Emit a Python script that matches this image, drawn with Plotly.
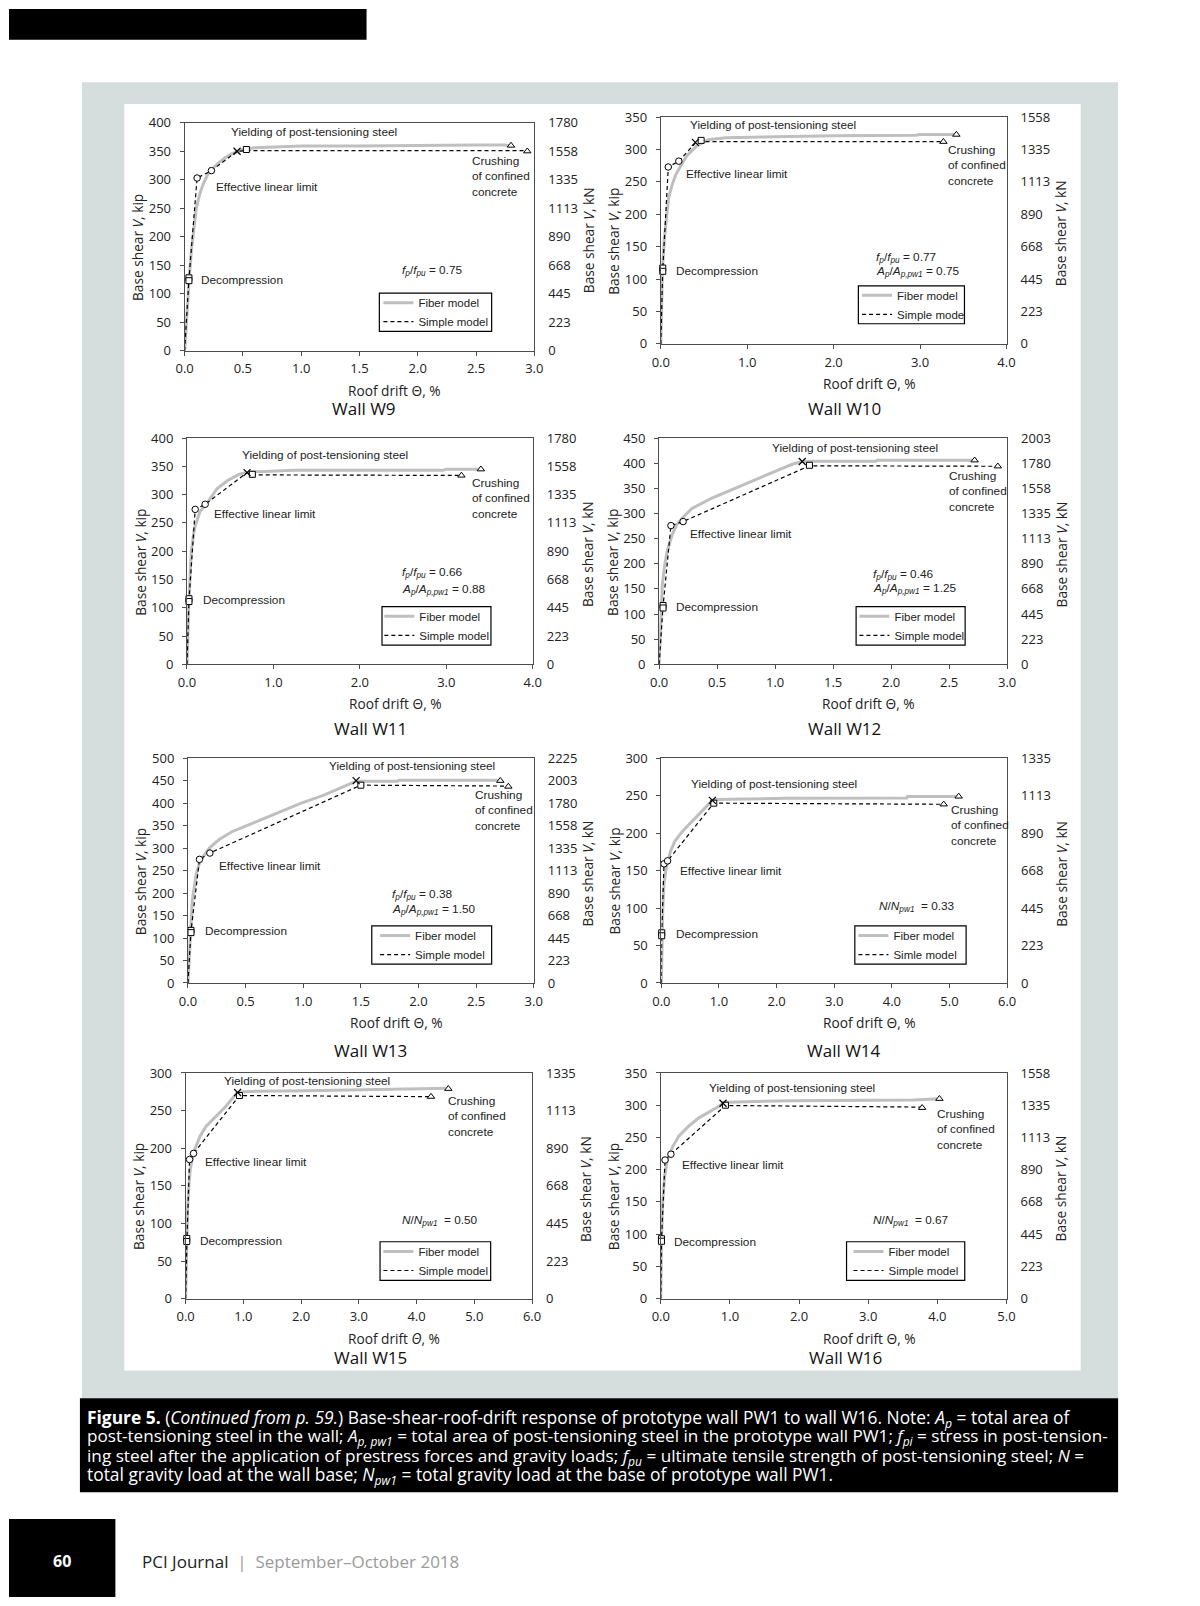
import plotly.graph_objects as go

FIG_W, FIG_H = 1200, 1606

# ======================= DATA =======================
# ---- Wall W9 ----
w9_fiber_drift = [0, 0.02, 0.04, 0.06, 0.08, 0.10, 0.13, 0.16, 0.20, 0.25, 0.30, 0.35, 0.40, 0.45, 0.50, 0.60, 0.80, 1.00, 1.50, 1.95, 2.00, 2.50, 2.75, 2.80]
w9_fiber_shear = [0, 70, 128, 180, 220, 250, 275, 293, 310, 322, 331, 339, 345, 349, 353, 356, 358, 359, 359, 359, 360, 361, 361, 359]
w9_simple_drift = [0, 0.037, 0.107, 0.23, 0.45, 0.53, 2.94]
w9_simple_shear = [0, 126, 303, 316, 350, 351, 351]
w9_square_drift, w9_square_shear = [0.037, 0.037, 0.53], [128, 123, 353]
w9_circle_drift, w9_circle_shear = [0.107, 0.23], [303, 316]
w9_cross_drift, w9_cross_shear = [0.45], [350]
w9_tri_drift, w9_tri_shear = [2.80, 2.94], [360, 350]
w9_xticks = [0, 0.5, 1.0, 1.5, 2.0, 2.5, 3.0]
w9_yticks = [0, 50, 100, 150, 200, 250, 300, 350, 400]
w9_kn_labels = ["0", "223", "445", "668", "890", "1113", "1335", "1558", "1780"]

# ---- Wall W10 ----
w10_fiber_drift = [0, 0.01, 0.02, 0.04, 0.065, 0.09, 0.13, 0.17, 0.21, 0.30, 0.42, 0.55, 0.75, 1.0, 1.5, 2.0, 2.5, 2.95, 3.0, 3.42]
w10_fiber_shear = [0, 60, 117, 160, 194, 225, 245, 260, 270, 290, 306, 315, 318, 319, 320, 321, 321, 322, 323, 323]
w10_simple_drift = [0, 0.023, 0.087, 0.209, 0.40, 0.467, 3.27]
w10_simple_shear = [0, 115, 273, 282, 310, 312, 312]
w10_square_drift, w10_square_shear = [0.023, 0.023, 0.467], [117, 112, 314]
w10_circle_drift, w10_circle_shear = [0.087, 0.209], [273, 282]
w10_cross_drift, w10_cross_shear = [0.40], [311]
w10_tri_drift, w10_tri_shear = [3.42, 3.27], [323, 312]
w10_xticks = [0, 1.0, 2.0, 3.0, 4.0]
w10_yticks = [0, 50, 100, 150, 200, 250, 300, 350]
w10_kn_labels = ["0", "223", "445", "668", "890", "1113", "1335", "1558"]

# ---- Wall W11 ----
w11_fiber_drift = [0, 0.01, 0.023, 0.05, 0.087, 0.15, 0.24, 0.35, 0.47, 0.60, 0.71, 0.90, 1.09, 1.25, 2.0, 2.96, 3.0, 3.40]
w11_fiber_shear = [0, 50, 114, 200, 241, 270, 287, 311, 325, 336, 340, 341, 342, 343, 343, 343, 345, 345]
w11_simple_drift = [0, 0.023, 0.095, 0.21, 0.695, 0.756, 3.175]
w11_simple_shear = [0, 114, 274, 283, 339, 335, 334]
w11_square_drift, w11_square_shear = [0.023, 0.023, 0.756], [116, 111, 336]
w11_circle_drift, w11_circle_shear = [0.095, 0.21], [274, 283]
w11_cross_drift, w11_cross_shear = [0.695], [339]
w11_tri_drift, w11_tri_shear = [3.40, 3.175], [345, 334]
w11_xticks = [0, 1.0, 2.0, 3.0, 4.0]
w11_yticks = [0, 50, 100, 150, 200, 250, 300, 350, 400]
w11_kn_labels = ["0", "223", "445", "668", "890", "1113", "1335", "1558", "1780"]

# ---- Wall W12 ----
w12_fiber_drift = [0, 0.01, 0.028, 0.05, 0.07, 0.113, 0.15, 0.20, 0.283, 0.45, 0.65, 0.85, 1.02, 1.16, 1.234, 1.30, 1.87, 1.88, 2.72]
w12_fiber_shear = [0, 70, 159, 200, 225, 258, 277, 291, 310, 330, 350, 369, 386, 399, 403.5, 404, 404, 406, 406]
w12_simple_drift = [0, 0.034, 0.102, 0.207, 1.296, 2.92]
w12_simple_shear = [0, 115, 276, 284, 395, 394]
w12_square_drift, w12_square_shear = [0.034, 0.034, 1.296], [117, 112, 396]
w12_circle_drift, w12_circle_shear = [0.102, 0.207], [276, 284]
w12_cross_drift, w12_cross_shear = [1.234], [403.5]
w12_tri_drift, w12_tri_shear = [2.72, 2.92], [406, 394]
w12_xticks = [0, 0.5, 1.0, 1.5, 2.0, 2.5, 3.0]
w12_yticks = [0, 50, 100, 150, 200, 250, 300, 350, 400, 450]
w12_kn_labels = ["0", "223", "445", "668", "890", "1113", "1335", "1558", "1780", "2003"]

# ---- Wall W13 ----
w13_fiber_drift = [0, 0.01, 0.02, 0.037, 0.071, 0.105, 0.185, 0.27, 0.385, 0.527, 0.726, 0.983, 1.18, 1.35, 1.459, 1.50, 1.82, 1.83, 2.71]
w13_fiber_shear = [0, 50, 114, 183, 242, 271, 300, 319, 337, 352, 374, 400, 418, 436, 449, 449, 449, 451, 451]
w13_simple_drift = [0, 0.026, 0.10, 0.19, 1.50, 2.78]
w13_simple_shear = [0, 115, 275, 289, 440, 438]
w13_square_drift, w13_square_shear = [0.026, 0.026, 1.50], [117, 112, 440]
w13_circle_drift, w13_circle_shear = [0.10, 0.19], [275, 289]
w13_cross_drift, w13_cross_shear = [1.459], [450]
w13_tri_drift, w13_tri_shear = [2.71, 2.78], [450, 437]
w13_xticks = [0, 0.5, 1.0, 1.5, 2.0, 2.5, 3.0]
w13_yticks = [0, 50, 100, 150, 200, 250, 300, 350, 400, 450, 500]
w13_kn_labels = ["0", "223", "445", "668", "890", "1113", "1335", "1558", "1780", "2003", "2225"]

# ---- Wall W14 ----
w14_fiber_drift = [0, 0.005, 0.011, 0.025, 0.046, 0.085, 0.16, 0.234, 0.36, 0.473, 0.644, 0.80, 0.883, 0.95, 1.21, 2.18, 4.26, 4.27, 5.16]
w14_fiber_shear = [0, 30, 66, 100, 132, 154, 176, 189, 202, 211, 224, 237.6, 243.7, 245, 245.5, 246.4, 247, 249, 249]
w14_simple_drift = [0, 0.006, 0.046, 0.108, 0.91, 4.90]
w14_simple_shear = [0, 65.5, 159, 163, 240, 238.5]
w14_square_drift, w14_square_shear = [0.006, 0.006, 0.91], [67, 63, 240]
w14_circle_drift, w14_circle_shear = [0.046, 0.108], [159, 163]
w14_cross_drift, w14_cross_shear = [0.885], [243.7]
w14_tri_drift, w14_tri_shear = [5.16, 4.90], [249, 238.5]
w14_xticks = [0, 1.0, 2.0, 3.0, 4.0, 5.0, 6.0]
w14_yticks = [0, 50, 100, 150, 200, 250, 300]
w14_kn_labels = ["0", "223", "445", "668", "890", "1113", "1335"]

# ---- Wall W15 ----
w15_fiber_drift = [0, 0.008, 0.017, 0.035, 0.057, 0.08, 0.137, 0.25, 0.353, 0.52, 0.69, 0.836, 0.90, 1.0, 1.15, 2.09, 3.71, 4.55]
w15_fiber_shear = [0, 40, 78, 120, 150, 172, 194, 216, 229, 242, 255, 268.5, 273.8, 275, 275.5, 276.4, 278, 279.5]
w15_simple_drift = [0, 0.023, 0.068, 0.137, 0.933, 4.25]
w15_simple_shear = [0, 78, 185, 193, 270, 268.5]
w15_square_drift, w15_square_shear = [0.02, 0.02, 0.933], [80, 76, 270]
w15_circle_drift, w15_circle_shear = [0.068, 0.137], [185, 193]
w15_cross_drift, w15_cross_shear = [0.90], [274]
w15_tri_drift, w15_tri_shear = [4.55, 4.25], [279, 268.5]
w15_xticks = [0, 1.0, 2.0, 3.0, 4.0, 5.0, 6.0]
w15_yticks = [0, 50, 100, 150, 200, 250, 300]
w15_kn_labels = ["0", "223", "445", "668", "890", "1113", "1335"]

# ---- Wall W16 ----
w16_fiber_drift = [0, 0.005, 0.01, 0.028, 0.057, 0.095, 0.176, 0.26, 0.40, 0.546, 0.712, 0.83, 0.90, 0.96, 1.116, 1.876, 3.656, 4.03]
w16_fiber_shear = [0, 45, 88, 150, 190.6, 216, 236.6, 252, 267, 280, 290, 297.5, 303, 304.5, 305, 307, 308, 310]
w16_simple_drift = [0, 0.01, 0.062, 0.147, 0.935, 3.78]
w16_simple_shear = [0, 91, 215, 224, 299.5, 297]
w16_square_drift, w16_square_shear = [0.01, 0.01, 0.935], [93, 89, 300]
w16_circle_drift, w16_circle_shear = [0.062, 0.147], [215, 224]
w16_cross_drift, w16_cross_shear = [0.90], [303]
w16_tri_drift, w16_tri_shear = [4.03, 3.78], [310, 296]
w16_xticks = [0, 1.0, 2.0, 3.0, 4.0, 5.0]
w16_yticks = [0, 50, 100, 150, 200, 250, 300, 350]
w16_kn_labels = ["0", "223", "445", "668", "890", "1113", "1335", "1558"]

# parameter values shown in each panel
w9_fp = "0.75"
w10_fp, w10_ap = "0.77", "0.75"
w11_fp, w11_ap = "0.66", "0.88"
w12_fp, w12_ap = "0.46", "1.25"
w13_fp, w13_ap = "0.38", "1.50"
w14_nn = "0.33"
w15_nn = "0.50"
w16_nn = "0.67"

# ======================= TEXT =======================
FP = "<i>f</i><sub><i>p</i></sub>/<i>f</i><sub><i>pu</i></sub> = {}"
AP = "<i>A</i><sub><i>p</i></sub>/<i>A</i><sub><i>p,pw1</i></sub> = {}"
NN = "<i>N</i>/<i>N</i><sub><i>pw1</i></sub>  = {}"
T_YIELD = "Yielding of post-tensioning steel"
T_ELL = "Effective linear limit"
T_DEC = "Decompression"
T_CRUSH = "Crushing<br>of confined<br>concrete"

caption_lines = [
    "<b>Figure 5.</b> (<i>Continued from p. 59.</i>) Base-shear-roof-drift response of prototype wall PW1 to wall W16. Note: <i>A</i><sub><i>p</i></sub> = total area of",
    "post-tensioning steel in the wall; <i>A</i><sub><i>p, pw1</i></sub> = total area of post-tensioning steel in the prototype wall PW1; <i>f</i><sub><i>pi</i></sub> = stress in post-tension-",
    "ing steel after the application of prestress forces and gravity loads; <i>f</i><sub><i>pu</i></sub> = ultimate tensile strength of post-tensioning steel; <i>N</i> =",
    "total gravity load at the wall base; <i>N</i><sub><i>pw1</i></sub> = total gravity load at the base of prototype wall PW1.",
]
caption_sizes = [17.4, 17.13, 17.2, 17.4]

# ======================= LAYOUT CONFIG (pixels) =======================
# frame: (left, right, top, bottom); legend_box: (left, right, top, bottom); legend_x: item start
panels = [
    dict(name="W9", frame=(178.3, 533.3, 115.0, 345.7),
         fiber=(w9_fiber_drift, w9_fiber_shear), simple=(w9_simple_drift, w9_simple_shear),
         sq=(w9_square_drift, w9_square_shear), ci=(w9_circle_drift, w9_circle_shear),
         cr=(w9_cross_drift, w9_cross_shear), tr=(w9_tri_drift, w9_tri_shear),
         xticks=w9_xticks, yticks=w9_yticks, kn=w9_kn_labels,
         simple_name="Simple model", legend_box=(376, 490, 287.3, 326), legend_x=375,
         texts=[(T_YIELD, 0.38, 384), (T_ELL, 0.25, 287), (T_DEC, 0.12, 124), (T_CRUSH, 2.45, 306),
                (FP.format(w9_fp), 1.85, 140)],
         title_x="Roof drift Θ, %", wall_xy=(360, 404)),
    dict(name="W10", frame=(661.7, 1012.7, 109.3, 338.7),
         fiber=(w10_fiber_drift, w10_fiber_shear), simple=(w10_simple_drift, w10_simple_shear),
         sq=(w10_square_drift, w10_square_shear), ci=(w10_circle_drift, w10_circle_shear),
         cr=(w10_cross_drift, w10_cross_shear), tr=(w10_tri_drift, w10_tri_shear),
         xticks=w10_xticks, yticks=w10_yticks, kn=w10_kn_labels,
         simple_name="Simple mode", legend_box=(862.3, 970, 280, 318.3), legend_x=861,
         texts=[(T_YIELD, 0.315, 338), (T_ELL, 0.27, 262), (T_DEC, 0.156, 112), (T_CRUSH, 3.30, 275),
                (FP.format(w10_fp), 2.47, 134), (AP.format(w10_ap), 2.47, 111)],
         title_x="Roof drift Θ, %", wall_xy=(848, 404)),
    dict(name="W11", frame=(180.7, 531.7, 434.0, 662.7),
         fiber=(w11_fiber_drift, w11_fiber_shear), simple=(w11_simple_drift, w11_simple_shear),
         sq=(w11_square_drift, w11_square_shear), ci=(w11_circle_drift, w11_circle_shear),
         cr=(w11_cross_drift, w11_cross_shear), tr=(w11_tri_drift, w11_tri_shear),
         xticks=w11_xticks, yticks=w11_yticks, kn=w11_kn_labels,
         simple_name="Simple model", legend_box=(378.7, 489.3, 604.3, 643.3), legend_x=376,
         texts=[(T_YIELD, 0.61, 370), (T_ELL, 0.285, 265), (T_DEC, 0.167, 113), (T_CRUSH, 3.27, 293),
                (FP.format(w11_fp), 2.46, 161.5), (AP.format(w11_ap), 2.46, 133)],
         title_x="Roof drift Θ, %", wall_xy=(367, 728)),
    dict(name="W12", frame=(660.0, 1013.3, 434.0, 662.7),
         fiber=(w12_fiber_drift, w12_fiber_shear), simple=(w12_simple_drift, w12_simple_shear),
         sq=(w12_square_drift, w12_square_shear), ci=(w12_circle_drift, w12_circle_shear),
         cr=(w12_cross_drift, w12_cross_shear), tr=(w12_tri_drift, w12_tri_shear),
         xticks=w12_xticks, yticks=w12_yticks, kn=w12_kn_labels,
         simple_name="Simple model", legend_box=(860, 970.7, 604.3, 643.3), legend_x=858.3,
         texts=[(T_YIELD, 0.96, 430), (T_ELL, 0.25, 259), (T_DEC, 0.13, 113.5), (T_CRUSH, 2.48, 344),
                (FP.format(w12_fp), 1.83, 179), (AP.format(w12_ap), 1.83, 150)],
         title_x="Roof drift Θ, %", wall_xy=(848, 728)),
    dict(name="W13", frame=(181.7, 532.7, 757.7, 985.0),
         fiber=(w13_fiber_drift, w13_fiber_shear), simple=(w13_simple_drift, w13_simple_shear),
         sq=(w13_square_drift, w13_square_shear), ci=(w13_circle_drift, w13_circle_shear),
         cr=(w13_cross_drift, w13_cross_shear), tr=(w13_tri_drift, w13_tri_shear),
         xticks=w13_xticks, yticks=w13_yticks, kn=w13_kn_labels,
         simple_name="Simple model", legend_box=(368.3, 490, 927.3, 966), legend_x=371.7,
         texts=[(T_YIELD, 1.205, 482), (T_ELL, 0.25, 259.5), (T_DEC, 0.134, 116), (T_CRUSH, 2.47, 383),
                (FP.format(w13_fp), 1.75, 196), (AP.format(w13_ap), 1.75, 163)],
         title_x="Roof drift Θ, %", wall_xy=(367, 1053)),
    dict(name="W14", frame=(662.3, 1013.3, 757.7, 985.0),
         fiber=(w14_fiber_drift, w14_fiber_shear), simple=(w14_simple_drift, w14_simple_shear),
         sq=(w14_square_drift, w14_square_shear), ci=(w14_circle_drift, w14_circle_shear),
         cr=(w14_cross_drift, w14_cross_shear), tr=(w14_tri_drift, w14_tri_shear),
         xticks=w14_xticks, yticks=w14_yticks, kn=w14_kn_labels,
         simple_name="Simle model", legend_box=(858.7, 971.7, 927.3, 966), legend_x=857.3,
         texts=[(T_YIELD, 0.484, 265), (T_ELL, 0.29, 150), (T_DEC, 0.22, 64.7), (T_CRUSH, 5.0, 210),
                (NN.format(w14_nn), 3.74, 102.5)],
         title_x="Roof drift Θ, %", wall_xy=(848, 1053)),
    dict(name="W15", frame=(179.3, 531.0, 1076.0, 1304.3),
         fiber=(w15_fiber_drift, w15_fiber_shear), simple=(w15_simple_drift, w15_simple_shear),
         sq=(w15_square_drift, w15_square_shear), ci=(w15_circle_drift, w15_circle_shear),
         cr=(w15_cross_drift, w15_cross_shear), tr=(w15_tri_drift, w15_tri_shear),
         xticks=w15_xticks, yticks=w15_yticks, kn=w15_kn_labels,
         simple_name="Simple model", legend_box=(376.7, 489, 1246.7, 1285.7), legend_x=375,
         texts=[(T_YIELD, 0.626, 289), (T_ELL, 0.307, 181), (T_DEC, 0.22, 77), (T_CRUSH, 4.51, 242),
                (NN.format(w15_nn), 3.72, 103.5)],
         title_x="Roof drift <i>Θ</i>, %", wall_xy=(367, 1364)),
    dict(name="W16", frame=(661.7, 1012.7, 1076.0, 1304.3),
         fiber=(w16_fiber_drift, w16_fiber_shear), simple=(w16_simple_drift, w16_simple_shear),
         sq=(w16_square_drift, w16_square_shear), ci=(w16_circle_drift, w16_circle_shear),
         cr=(w16_cross_drift, w16_cross_shear), tr=(w16_tri_drift, w16_tri_shear),
         xticks=w16_xticks, yticks=w16_yticks, kn=w16_kn_labels,
         simple_name="Simple model", legend_box=(850.3, 970.3, 1246.7, 1285.7), legend_x=852.3,
         texts=[(T_YIELD, 0.675, 326), (T_ELL, 0.285, 207), (T_DEC, 0.166, 88), (T_CRUSH, 3.96, 262.6),
                (NN.format(w16_nn), 3.04, 120.6)],
         title_x="Roof drift Θ, %", wall_xy=(849, 1364)),
]

# ======================= STYLE =======================
AX_FONT = "'Open Sans', Lato, sans-serif"
ANN_FONT = "'Liberation Sans', Arial, sans-serif"
TICK_COLOR = "#222222"
FRAME_COLOR = "#4d4d4d"
FIBER_COLOR = "#bfbfbf"
GRAY_BG = "#d5dedd"


def px(xp):
    return xp / FIG_W


def py(yp):
    return 1 - yp / FIG_H


fig = go.Figure()
layout = dict(
    width=FIG_W, height=FIG_H, margin=dict(l=0, r=0, t=0, b=0),
    paper_bgcolor="white", plot_bgcolor="rgba(0,0,0,0)",
    showlegend=True, shapes=[], annotations=[],
)

# page decoration
for (x0, y0, x1, y1, col) in [
    (0, 0, 363, 31, "black"),
    (74, 74, 1126, 1405, GRAY_BG),
    (117, 96, 1088, 1377, "white"),
    (72, 1405, 1126, 1500, "black"),
    (0, 1527, 108, 1606, "black"),
]:
    layout["shapes"].append(dict(type="rect", xref="paper", yref="paper",
                                 x0=px(x0), x1=px(x1), y0=py(y1), y1=py(y0),
                                 fillcolor=col, line=dict(width=0), layer="below"))

for i, p in enumerate(panels, start=1):
    sfx = "" if i == 1 else str(i)
    xa, ya, yr = "x" + sfx, "y" + sfx, "y" + str(8 + i)
    lg = "legend" + sfx
    L, R, T, B = p["frame"]
    xmax = p["xticks"][-1]
    ymax = p["yticks"][-1]

    fig.add_trace(go.Scatter(x=p["fiber"][0], y=p["fiber"][1], mode="lines", name="Fiber model",
                             line=dict(color=FIBER_COLOR, width=3), xaxis=xa, yaxis=ya, legend=lg,
                             hoverinfo="skip"))
    fig.add_trace(go.Scatter(x=p["simple"][0], y=p["simple"][1], mode="lines", name=p["simple_name"],
                             line=dict(color="black", width=1.2, dash="4px,3px"), xaxis=xa, yaxis=ya,
                             legend=lg, hoverinfo="skip"))
    for key, sym, size in [("sq", "square", 6), ("ci", "circle", 6.5), ("tr", "triangle-up", 6.5)]:
        fig.add_trace(go.Scatter(x=p[key][0], y=p[key][1], mode="markers", showlegend=False,
                                 marker=dict(symbol=sym, size=size, color="white",
                                             line=dict(color="black", width=1)),
                                 xaxis=xa, yaxis=ya, cliponaxis=False, hoverinfo="skip"))
    fig.add_trace(go.Scatter(x=p["cr"][0], y=p["cr"][1], mode="markers", showlegend=False,
                             marker=dict(symbol="x-thin", size=7, color="black",
                                         line=dict(color="black", width=1.2)),
                             xaxis=xa, yaxis=ya, cliponaxis=False, hoverinfo="skip"))
    # right (kN) axis carrier
    fig.add_trace(go.Scatter(x=[None], y=[None], xaxis=xa, yaxis=yr, showlegend=False, hoverinfo="skip"))

    tickfont = dict(family=AX_FONT, size=13, color=TICK_COLOR)
    layout["xaxis" + sfx] = dict(
        domain=[px(L), px(R)], anchor=ya, range=[0, xmax], tickvals=p["xticks"], tickformat=".1f",
        ticks="outside", ticklen=4, tickwidth=1, tickcolor=FRAME_COLOR, ticklabelstandoff=2,
        showline=True, linewidth=1, linecolor=FRAME_COLOR, mirror=True,
        showgrid=False, zeroline=False, tickfont=tickfont,
    )
    layout["yaxis" + sfx] = dict(
        domain=[py(B), py(T)], anchor=xa, range=[0, ymax], tickvals=p["yticks"],
        ticks="outside", ticklen=4, tickwidth=1, tickcolor=FRAME_COLOR, ticklabelstandoff=6,
        showline=True, linewidth=1, linecolor=FRAME_COLOR, mirror=True,
        showgrid=False, zeroline=False, tickfont=tickfont,
    )
    layout["yaxis" + str(8 + i)] = dict(
        overlaying=ya, side="right", anchor=xa, range=[0, ymax], tickvals=p["yticks"], ticktext=p["kn"],
        ticks="", showline=False, showgrid=False, zeroline=False, ticklabelstandoff=13,
        tickfont=tickfont,
    )
    bl, br, bt, bb = p["legend_box"]
    layout["shapes"].append(dict(type="rect", xref="paper", yref="paper",
                                 x0=px(bl), x1=px(br), y0=py(bb), y1=py(bt),
                                 fillcolor="white", line=dict(color="black", width=1.2), layer="above"))
    layout[lg] = dict(x=px(p["legend_x"]), y=py((bt + bb) / 2), xanchor="left", yanchor="middle",
                      borderwidth=0, bgcolor="rgba(0,0,0,0)",
                      font=dict(family=ANN_FONT, size=11.5, color="#222"),
                      tracegroupgap=0, itemwidth=30)

    for (txt, tx, ty) in p["texts"]:
        layout["annotations"].append(dict(text=txt, x=tx, y=ty, xref=xa, yref=ya, xanchor="left",
                                          yanchor="middle", align="left", showarrow=False,
                                          font=dict(family=ANN_FONT, size=11.8, color="#222")))
    # axis titles and wall label
    mid_y = (T + B) / 2
    tfont = dict(family=AX_FONT, size=13.7, color=TICK_COLOR)
    layout["annotations"] += [
        dict(text="Base shear <i>V</i>, kip", x=px(L - 48), y=py(mid_y + 11), xref="paper", yref="paper",
             xanchor="center", yanchor="middle", textangle=-90, showarrow=False, font=tfont),
        dict(text="Base shear <i>V</i>, kN", x=px(R + 55), y=py(mid_y + 3), xref="paper", yref="paper",
             xanchor="center", yanchor="middle", textangle=-90, showarrow=False, font=tfont),
        dict(text=p["title_x"], x=px((L + R) / 2 + 36), y=py(B + 40), xref="paper", yref="paper",
             xanchor="center", yanchor="middle", showarrow=False, font=tfont),
        dict(text="Wall " + p["name"], x=px(p["wall_xy"][0]), y=py(p["wall_xy"][1]), xref="paper",
             yref="paper", xanchor="center", yanchor="middle", showarrow=False,
             font=dict(family=AX_FONT, size=17, color="#111")),
    ]

# caption
for k, (line, size) in enumerate(zip(caption_lines, caption_sizes)):
    layout["annotations"].append(dict(text=line, x=px(77), y=py(1425 + 19.5 * k), xref="paper", yref="paper",
                                      xanchor="left", yanchor="middle", showarrow=False,
                                      font=dict(family=AX_FONT, size=size, color="white")))

# footer
layout["annotations"] += [
    dict(text="<b>60</b>", x=px(54), y=py(1570), xref="paper", yref="paper", xanchor="center",
         yanchor="middle", showarrow=False, font=dict(family=AX_FONT, size=16, color="white")),
    dict(text="PCI Journal  <span style='color:#9a9a9a'>|  September–October 2018</span>",
         x=px(133), y=py(1570), xref="paper", yref="paper", xanchor="left", yanchor="middle",
         showarrow=False, font=dict(family=AX_FONT, size=17, color="#222")),
]

fig.update_layout(**layout)
PAGE_FIX = "document.body.style.margin='0';document.body.style.overflow='hidden';"
fig.write_html("out.html", config={"displayModeBar": False}, post_script=PAGE_FIX)
